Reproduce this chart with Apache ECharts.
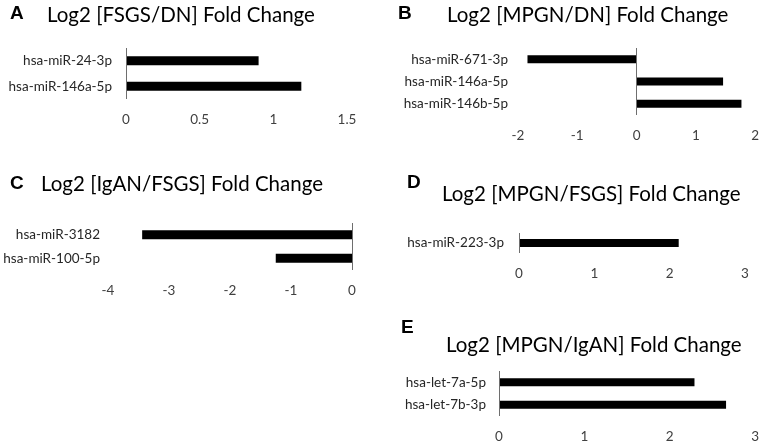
<!DOCTYPE html>
<html>
<head>
<meta charset="utf-8">
<script src="https://cdn.jsdelivr.net/npm/echarts@6/dist/echarts.min.js"></script>
<style>html,body{margin:0;padding:0;background:#fff}#c{width:762px;height:444px}</style>
</head>
<body>
<div id="c"></div>
<script>
// ---- data ----
const panelLetters = ['A', 'B', 'C', 'D', 'E'];
const panelTitles = [
  'Log2 [FSGS/DN] Fold Change',
  'Log2 [MPGN/DN] Fold Change',
  'Log2 [IgAN/FSGS] Fold Change',
  'Log2 [MPGN/FSGS] Fold Change',
  'Log2 [MPGN/IgAN] Fold Change'
];
const catA = ['hsa-miR-24-3p', 'hsa-miR-146a-5p'];
const valA = [0.90, 1.19];
const catB = ['hsa-miR-671-3p', 'hsa-miR-146a-5p', 'hsa-miR-146b-5p'];
const valB = [-1.84, 1.46, 1.77];
const catC = ['hsa-miR-3182', 'hsa-miR-100-5p'];
const valC = [-3.44, -1.25];
const catD = ['hsa-miR-223-3p'];
const valD = [2.12];
const catE = ['hsa-let-7a-5p', 'hsa-let-7b-3p'];
const valE = [2.29, 2.66];
// axis ranges [min, max, interval]
const rangeA = [0, 1.5, 0.5];
const rangeB = [-2, 2, 1];
const rangeC = [-4, 0, 1];
const rangeD = [0, 3, 1];
const rangeE = [0, 3, 1];

// ---- layout ----
const panels = [
  {cat: catA, val: valA, range: rangeA, grid: {left: 126, top: 48, width: 221, height: 51}, bw: 9, lm: 14,
   letter: [10, 2], title: [47, 3]},
  {cat: catB, val: valB, range: rangeB, grid: {left: 518, top: 48, width: 239, height: 67}, bw: 8, lm: 10,
   letter: [398, 2], title: [447, 3]},
  {cat: catC, val: valC, range: rangeC, grid: {left: 108, top: 223, width: 244, height: 47}, bw: 9, lm: 8,
   letter: [10, 172], title: [41, 172]},
  {cat: catD, val: valD, range: rangeD, grid: {left: 519, top: 233, width: 226, height: 20}, bw: 8, lm: 15,
   letter: [407, 171], title: [442, 182]},
  {cat: catE, val: valE, range: rangeE, grid: {left: 499, top: 371, width: 257, height: 46}, bw: 8, lm: 13,
   letter: [401, 316], title: [446, 333]}
];

const titles = [], grids = [], xAxes = [], yAxes = [], series = [];
panels.forEach((p, i) => {
  titles.push({text: panelLetters[i], left: p.letter[0], top: p.letter[1], padding: 0,
    textStyle: {fontFamily: 'Liberation Sans', fontWeight: 'bold', fontSize: 19, lineHeight: 24, color: '#000'}});
  titles.push({text: panelTitles[i], left: p.title[0], top: p.title[1], padding: 0,
    textStyle: {fontFamily: 'Lato', fontWeight: 'normal', fontSize: 20.5, lineHeight: 24, color: '#000'}});
  grids.push(Object.assign({containLabel: false}, p.grid));
  xAxes.push({type: 'value', gridIndex: i, min: p.range[0], max: p.range[1], interval: p.range[2],
    axisLine: {show: false}, axisTick: {show: false}, splitLine: {show: false},
    axisLabel: {fontFamily: 'Lato', fontSize: 13.5, color: '#404040', margin: 14}});
  yAxes.push({type: 'category', gridIndex: i, data: p.cat, inverse: true,
    axisLine: {show: false}, axisTick: {show: false}, splitLine: {show: false},
    axisLabel: {fontFamily: 'Lato', fontSize: 13.5, color: '#262626', margin: p.lm}});
  series.push({type: 'bar', xAxisIndex: i, yAxisIndex: i, data: p.val, barWidth: p.bw,
    itemStyle: {color: '#000'}, silent: true, animation: false,
    markLine: {silent: true, symbol: 'none', label: {show: false}, animation: false,
      lineStyle: {color: '#6e6e6e', width: 1, type: 'solid'}, data: [{xAxis: 0}]}});
});

const chart = echarts.init(document.getElementById('c'), null, {renderer: 'canvas'});
chart.setOption({
  animation: false,
  backgroundColor: '#fff',
  title: titles,
  grid: grids,
  xAxis: xAxes,
  yAxis: yAxes,
  series: series
});
</script>
</body>
</html>
